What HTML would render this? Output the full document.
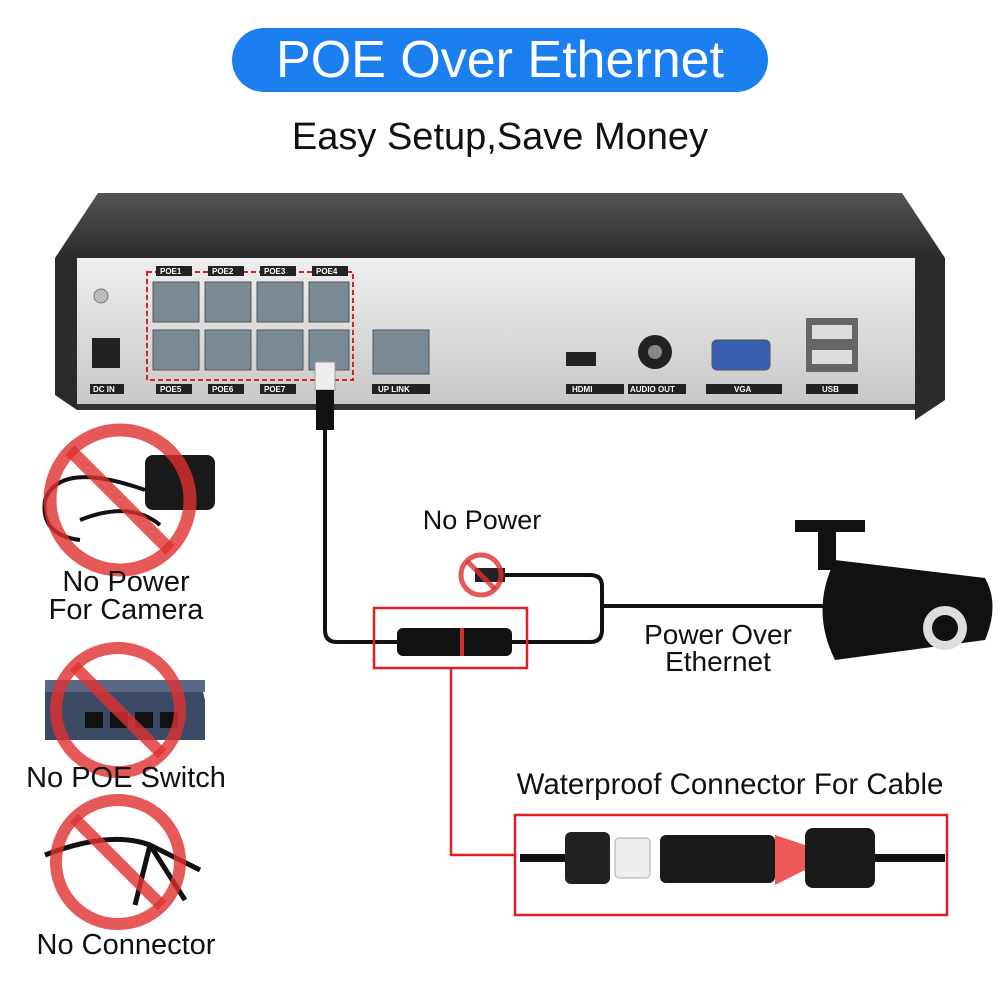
<!DOCTYPE html>
<html><head><meta charset="utf-8"><style>
html,body{margin:0;padding:0;background:#fff}
body{width:1000px;height:1000px;position:relative;overflow:hidden;font-family:"Liberation Sans",sans-serif}
.t{position:absolute;color:#111;text-align:center;white-space:nowrap}
</style></head><body>
<div style="position:absolute;left:232px;top:28px;width:536px;height:64px;border-radius:32px;background:#1c7fef;color:#fff;font-size:52px;line-height:64px;text-align:center">POE Over Ethernet</div>
<div class="t" style="left:0;width:1000px;top:116px;font-size:38px">Easy Setup,Save Money</div>

<svg width="1000" height="1000" style="position:absolute;left:0;top:0">
<defs>
<linearGradient id="top" x1="0" y1="0" x2="0" y2="1"><stop offset="0" stop-color="#555"/><stop offset="1" stop-color="#2a2a2a"/></linearGradient>
<linearGradient id="fr" x1="0" y1="0" x2="0" y2="1"><stop offset="0" stop-color="#eee"/><stop offset="1" stop-color="#c8c8c8"/></linearGradient>
</defs>
<polygon points="98,193 902,193 945,258 55,258" fill="url(#top)"/>
<polygon points="55,258 77,258 77,410 55,395" fill="#2b2b2b"/>
<polygon points="915,258 945,258 945,400 915,420" fill="#2b2b2b"/>
<rect x="77" y="258" width="838" height="148" fill="url(#fr)"/>
<rect x="77" y="404" width="838" height="6" fill="#333"/>
<rect x="147" y="272" width="206" height="108" fill="none" stroke="#e02020" stroke-width="2" stroke-dasharray="5,3"/>
<g fill="#7a8a94" stroke="#555">
<rect x="153" y="282" width="46" height="40"/><rect x="205" y="282" width="46" height="40"/><rect x="257" y="282" width="46" height="40"/><rect x="309" y="282" width="40" height="40"/>
<rect x="153" y="330" width="46" height="40"/><rect x="205" y="330" width="46" height="40"/><rect x="257" y="330" width="46" height="40"/><rect x="309" y="330" width="40" height="40"/>
<rect x="373" y="330" width="56" height="44"/>
</g>
<g font-size="8" font-weight="bold" fill="#fff">
<rect x="156" y="266" width="36" height="10" fill="#222"/><text x="160" y="274">POE1</text>
<rect x="208" y="266" width="36" height="10" fill="#222"/><text x="212" y="274">POE2</text>
<rect x="260" y="266" width="36" height="10" fill="#222"/><text x="264" y="274">POE3</text>
<rect x="312" y="266" width="36" height="10" fill="#222"/><text x="316" y="274">POE4</text>
<rect x="156" y="384" width="36" height="10" fill="#222"/><text x="160" y="392">POE5</text>
<rect x="208" y="384" width="36" height="10" fill="#222"/><text x="212" y="392">POE6</text>
<rect x="260" y="384" width="36" height="10" fill="#222"/><text x="264" y="392">POE7</text>
<rect x="372" y="384" width="58" height="10" fill="#222"/><text x="378" y="392">UP LINK</text>
<rect x="90" y="384" width="34" height="10" fill="#222"/><text x="93" y="392">DC IN</text>
<rect x="566" y="384" width="58" height="10" fill="#222"/><text x="572" y="392">HDMI</text>
<rect x="628" y="384" width="58" height="10" fill="#222"/><text x="630" y="392">AUDIO OUT</text>
<rect x="706" y="384" width="76" height="10" fill="#222"/><text x="734" y="392">VGA</text>
<rect x="806" y="384" width="52" height="10" fill="#222"/><text x="822" y="392">USB</text>
</g>
<rect x="92" y="338" width="28" height="30" fill="#222"/>
<circle cx="101" cy="296" r="7" fill="#bbb" stroke="#777"/>
<rect x="566" y="352" width="30" height="14" fill="#222"/>
<circle cx="655" cy="352" r="17" fill="#222"/><circle cx="655" cy="352" r="7" fill="#888"/>
<rect x="712" y="340" width="58" height="30" rx="5" fill="#3b5fb0" stroke="#555"/>
<rect x="806" y="318" width="52" height="54" fill="#666"/>
<rect x="812" y="325" width="40" height="14" fill="#ddd"/><rect x="812" y="350" width="40" height="14" fill="#ddd"/>
<rect x="315" y="362" width="20" height="28" fill="#eee" stroke="#999"/>
<rect x="316" y="390" width="18" height="40" fill="#111"/>
<path d="M325,430 V630 Q325,642 337,642 H400" fill="none" stroke="#111" stroke-width="4"/>
<rect x="397" y="628" width="115" height="28" rx="6" fill="#111"/>
<rect x="460" y="628" width="4" height="28" fill="#c33"/>
<path d="M512,642 H590 Q602,642 602,630 V586 Q602,575 590,575 H505" fill="none" stroke="#111" stroke-width="4"/>
<path d="M602,606 H830" fill="none" stroke="#111" stroke-width="4"/>
<rect x="475" y="568" width="30" height="14" fill="#222"/>
<circle cx="481" cy="575" r="20" fill="none" stroke="#e03030" stroke-width="5" opacity="0.8"/>
<line x1="467" y1="561" x2="495" y2="589" stroke="#e03030" stroke-width="5" opacity="0.8"/>
<rect x="374" y="608" width="153" height="60" fill="none" stroke="#e02020" stroke-width="2.5"/>
<path d="M451,668 V855 H515" fill="none" stroke="#e02020" stroke-width="2.5"/>
<rect x="795" y="520" width="70" height="12" fill="#111"/>
<rect x="818" y="530" width="18" height="40" fill="#111"/>
<path d="M835,560 L985,578 Q1000,605 985,640 L835,660 Q810,610 835,560 Z" fill="#111"/>
<circle cx="945" cy="628" r="22" fill="#ddd"/><circle cx="945" cy="628" r="13" fill="#111"/>
<rect x="515" y="815" width="432" height="100" fill="none" stroke="#e02020" stroke-width="2.5"/>
<path d="M520,858 H565 M870,858 H945" stroke="#111" stroke-width="8"/>
<rect x="565" y="832" width="45" height="52" rx="6" fill="#222"/>
<rect x="615" y="838" width="35" height="40" rx="4" fill="#eee" stroke="#aaa"/>
<rect x="660" y="835" width="115" height="48" rx="6" fill="#1a1a1a"/>
<polygon points="775,835 805,845 805,870 775,885" fill="#e83030" opacity="0.8"/>
<rect x="805" y="828" width="70" height="60" rx="8" fill="#1a1a1a"/>
<rect x="145" y="455" width="70" height="55" rx="8" fill="#1a1a1a"/>
<path d="M145,490 Q60,460 45,500 Q40,535 80,540 M80,520 Q130,500 160,525" fill="none" stroke="#111" stroke-width="4"/>
<circle cx="120" cy="500" r="70" fill="none" stroke="#e03030" stroke-width="13" opacity="0.8"/>
<line x1="70" y1="450" x2="170" y2="550" stroke="#e03030" stroke-width="13" opacity="0.8"/>
<polygon points="45,680 200,680 205,700 205,740 45,740" fill="#3d4a66"/>
<rect x="45" y="680" width="160" height="12" fill="#5a6886"/>
<g fill="#111"><rect x="85" y="712" width="18" height="16"/><rect x="110" y="712" width="18" height="16"/><rect x="135" y="712" width="18" height="16"/><rect x="160" y="712" width="18" height="16"/></g>
<circle cx="118" cy="710" r="62" fill="none" stroke="#e03030" stroke-width="12" opacity="0.8"/>
<line x1="74" y1="666" x2="162" y2="754" stroke="#e03030" stroke-width="12" opacity="0.8"/>
<path d="M45,855 Q110,830 150,845 L200,870 M150,845 L185,900 M150,845 L135,905" fill="none" stroke="#111" stroke-width="5"/>
<circle cx="118" cy="862" r="62" fill="none" stroke="#e03030" stroke-width="12" opacity="0.8"/>
<line x1="74" y1="818" x2="162" y2="906" stroke="#e03030" stroke-width="12" opacity="0.8"/>
</svg>

<div class="t" style="left:0;width:252px;top:568px;font-size:29px;line-height:28px">No Power<br>For Camera</div>
<div class="t" style="left:0;width:252px;top:762px;font-size:29px">No POE Switch</div>
<div class="t" style="left:0;width:252px;top:929px;font-size:29px">No Connector</div>
<div class="t" style="left:382px;width:200px;top:505px;font-size:27px">No Power</div>
<div class="t" style="left:608px;width:220px;top:621px;font-size:28px;line-height:27px">Power Over<br>Ethernet</div>
<div class="t" style="left:500px;width:460px;top:768px;font-size:29.5px">Waterproof Connector For Cable</div>
</body></html>
